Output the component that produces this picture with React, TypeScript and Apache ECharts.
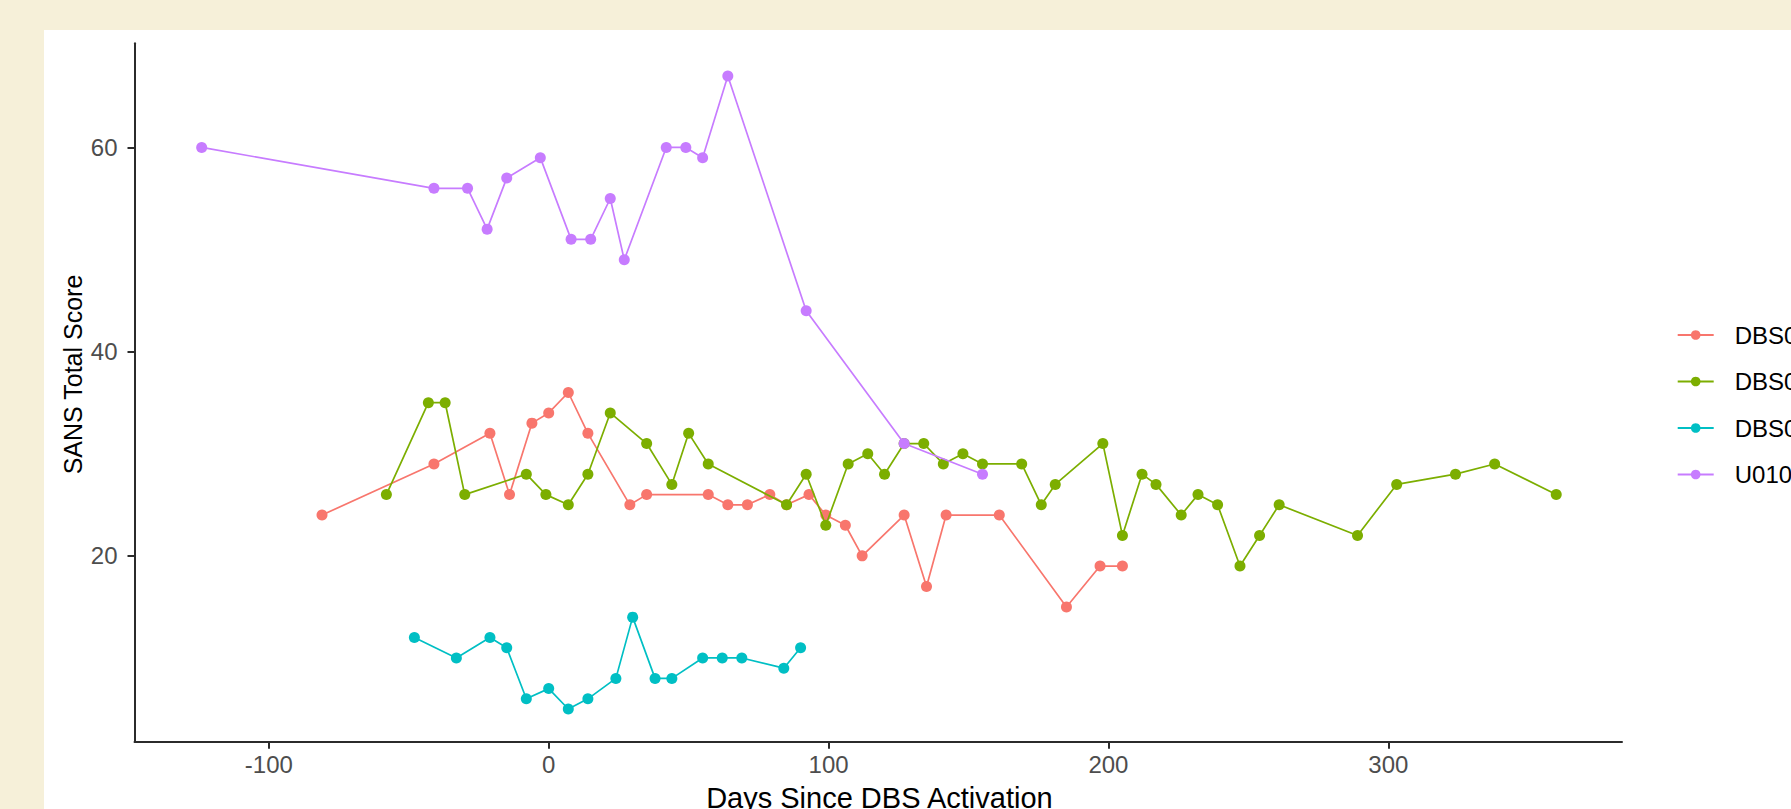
import React, { useEffect, useRef } from "react";
import * as echarts from "echarts";

const FONT = "'Liberation Sans', Arial, Helvetica, sans-serif";

const seriesNames = ["DBS001", "DBS002", "DBS003", "U01001"];
const seriesColors = ["#F8766D", "#7CAE00", "#00BFC4", "#C77CFF"];

const dbs001Days = [-81, -41, -21, -14, -6, 0, 7, 14, 29, 35, 57, 64, 71, 79, 85, 93, 99, 106, 112, 127, 135, 142, 161, 185, 197, 205];
const dbs001Scores = [24, 29, 32, 26, 33, 34, 36, 32, 25, 26, 26, 25, 25, 26, 25, 26, 24, 23, 20, 24, 17, 24, 24, 15, 19, 19];

const dbs002Days = [-58, -43, -37, -30, -8, -1, 7, 14, 22, 35, 44, 50, 57, 85, 92, 99, 107, 114, 120, 127, 134, 141, 148, 155, 169, 176, 181, 198, 205, 212, 217, 226, 232, 239, 247, 254, 261, 289, 303, 324, 338, 360];
const dbs002Scores = [26, 35, 35, 26, 28, 26, 25, 28, 34, 31, 27, 32, 29, 25, 28, 23, 29, 30, 28, 31, 31, 29, 30, 29, 29, 25, 27, 31, 22, 28, 27, 24, 26, 25, 19, 22, 25, 22, 27, 28, 29, 26];

const dbs003Days = [-48, -33, -21, -15, -8, 0, 7, 14, 24, 30, 38, 44, 55, 62, 69, 84, 90];
const dbs003Scores = [12, 10, 12, 11, 6, 7, 5, 6, 8, 14, 8, 8, 10, 10, 10, 9, 11];

const u01001Days = [-124, -41, -29, -22, -15, -3, 8, 15, 22, 27, 42, 49, 55, 64, 92, 127, 155];
const u01001Scores = [60, 56, 56, 52, 57, 59, 51, 51, 55, 49, 60, 60, 59, 67, 44, 31, 28];

const xTicks = [-100, 0, 100, 200, 300];
const yTicks = [20, 40, 60];

const xTitle = "Days Since DBS Activation";
const yTitle = "SANS Total Score";

const allDays = [dbs001Days, dbs002Days, dbs003Days, u01001Days];
const allScores = [dbs001Scores, dbs002Scores, dbs003Scores, u01001Scores];

export default function App() {
  const ref = useRef<HTMLDivElement>(null);

  useEffect(() => {
    if (!ref.current) return;
    const chart = echarts.init(ref.current, null, { renderer: "svg" });

    const series = seriesNames.map((name, k) => ({
      name,
      type: "line",
      data: allDays[k].map((d, i) => [d, allScores[k][i]]),
      symbol: "circle",
      symbolSize: 11,
      showSymbol: true,
      showAllSymbol: true,
      lineStyle: { color: seriesColors[k], width: 1.7 },
      itemStyle: { color: seriesColors[k] },
      emphasis: { disabled: true },
      z: 2 + k,
    }));

    const axisLineStyle = { color: "#2b2b2b", width: 2 };

    chart.setOption({
      animation: false,
      backgroundColor: "#ffffff",
      textStyle: { fontFamily: FONT },
      grid: {
        left: 90.5,
        right: 169,
        top: 13.3,
        bottom: 67.3,
        containLabel: false,
        outerBoundsMode: "none",
      },
      xAxis: {
        type: "value",
        min: -148,
        max: 383.5,
        axisLine: { show: true, onZero: false, lineStyle: axisLineStyle },
        axisTick: { show: true, length: 7, lineStyle: axisLineStyle, customValues: xTicks },
        axisLabel: {
          customValues: xTicks,
          fontSize: 24,
          color: "#4D4D4D",
          margin: 11,
          fontFamily: FONT,
        },
        splitLine: { show: false },
      },
      yAxis: {
        type: "value",
        min: 1.8,
        max: 70.2,
        axisLine: { show: true, onZero: false, lineStyle: axisLineStyle },
        axisTick: { show: true, length: 7, lineStyle: axisLineStyle, customValues: yTicks },
        axisLabel: {
          customValues: yTicks,
          fontSize: 24,
          color: "#4D4D4D",
          margin: 17,
          fontFamily: FONT,
        },
        splitLine: { show: false },
      },
      legend: {
        orient: "vertical",
        left: 1627.7,
        top: 288,
        itemWidth: 36,
        itemHeight: 12,
        itemGap: 22.5,
        data: seriesNames,
        textStyle: { fontSize: 24, color: "#000000", fontFamily: FONT, padding: [0, 0, 0, 16] },
        selectedMode: false,
      },
      graphic: [
        {
          type: "text",
          x: 29,
          y: 344.5,
          rotation: Math.PI / 2,
          style: {
            text: yTitle,
            fontSize: 25,
            fontFamily: FONT,
            fill: "#000000",
            align: "center",
            verticalAlign: "middle",
          },
        },
        {
          type: "text",
          x: 835.4,
          y: 753,
          style: {
            text: xTitle,
            fontSize: 29,
            fontFamily: FONT,
            fill: "#000000",
            align: "center",
            verticalAlign: "top",
          },
        },
      ],
      series,
    });

    return () => {
      chart.dispose();
    };
  }, []);

  return (
    <div
      style={{
        position: "fixed",
        left: 0,
        top: 0,
        width: 1791,
        height: 809,
        background: "#F6F0D9",
        overflow: "hidden",
      }}
    >
      <div
        ref={ref}
        style={{
          position: "absolute",
          left: 44,
          top: 30,
          width: 1747,
          height: 779,
          background: "#ffffff",
        }}
      />
    </div>
  );
}
